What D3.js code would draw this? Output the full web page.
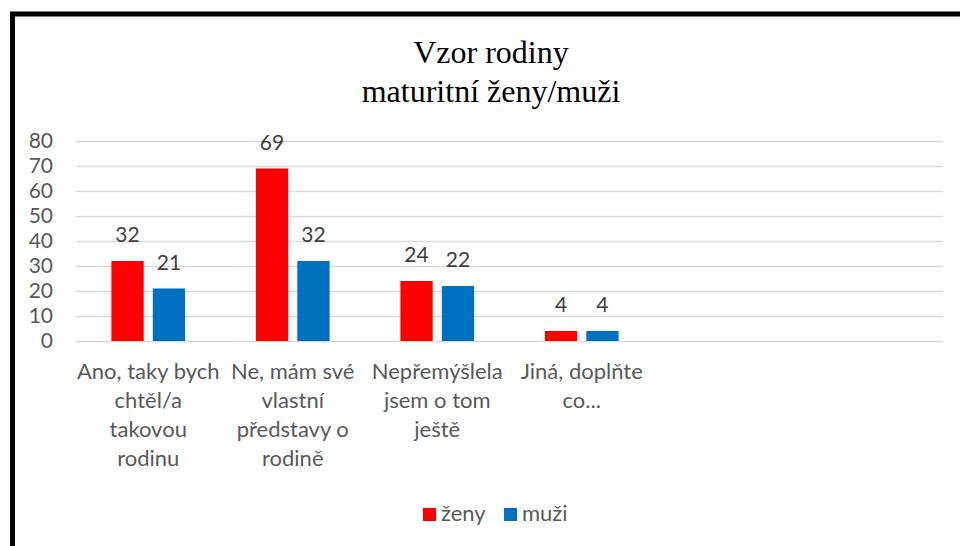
<!DOCTYPE html>
<html>
<head>
<meta charset="utf-8">
<script src="https://cdn.jsdelivr.net/npm/d3@7/dist/d3.min.js"></script>
<style>
  body { margin: 0; background: #fff; }
  text { font-family: Lato, "Open Sans", sans-serif; }
</style>
</head>
<body>
<div id="chart"></div>
<script>
// Chart data
var categories = [
  ["Ano, taky bych", "chtěl/a", "takovou", "rodinu"],
  ["Ne, mám své", "vlastní", "představy o", "rodině"],
  ["Nepřemýšlela", "jsem o tom", "ještě"],
  ["Jiná, doplňte", "co..."],
  [],
  []
];
var series = ["ženy", "muži"];
var zeny = [32, 69, 24, 4, null, null];
var muzi = [21, 32, 22, 4, null, null];
var yTicks = [0, 10, 20, 30, 40, 50, 60, 70, 80];
var colors = ["#ff0000", "#0070c0"];
var titleLines = ["Vzor rodiny", "maturitní ženy/muži"];

var width = 960, height = 546;
var plot = {left: 76, right: 943, top: 141, bottom: 341};

var svg = d3.select("#chart").append("svg")
  .attr("width", width)
  .attr("height", height);

svg.append("rect")
  .attr("width", width).attr("height", height)
  .attr("fill", "#fff");

// thick frame (cut at right and bottom)
svg.append("rect")
  .attr("x", 12.5).attr("y", 14)
  .attr("width", 980).attr("height", 600)
  .attr("fill", "none")
  .attr("stroke", "#000")
  .attr("stroke-width", 5);

// title
svg.append("g").selectAll("text")
  .data(titleLines)
  .enter().append("text")
  .attr("x", 491)
  .attr("y", function(d, i) { return 63 + i * 39; })
  .attr("text-anchor", "middle")
  .style("font-family", "'Liberation Serif', 'Times New Roman', serif")
  .style("font-size", "32px")
  .attr("fill", "#000")
  .text(function(d) { return d; });

// scales
var x0 = d3.scaleBand()
  .domain(d3.range(categories.length))
  .range([plot.left, plot.right]);

var x1 = d3.scaleBand()
  .domain(series)
  .range([x0.bandwidth() * 0.245, x0.bandwidth() * 0.755])
  .paddingInner(0.22);

var yScale = d3.scaleLinear()
  .domain([0, 80])
  .range([plot.bottom, plot.top]);

// y axis + gridlines
var yAxis = d3.axisLeft(yScale)
  .tickValues(yTicks)
  .tickSizeInner(-(plot.right - plot.left))
  .tickSizeOuter(0)
  .tickPadding(23);

var gY = svg.append("g")
  .attr("transform", "translate(" + plot.left + ",0)")
  .call(yAxis);
gY.select(".domain").remove();
gY.selectAll(".tick line")
  .attr("stroke", "#d9d9d9")
  .attr("stroke-width", 1.5);
gY.selectAll(".tick text")
  .attr("fill", "#595959")
  .style("font-size", "21px")
  .style("font-family", "Lato, sans-serif");

// bars
var rows = categories.map(function(c, i) {
  return {i: i, values: [zeny[i], muzi[i]]};
});

var group = svg.append("g").selectAll("g")
  .data(rows)
  .enter().append("g")
  .attr("transform", function(d) { return "translate(" + x0(d.i) + ",0)"; });

var cells = group.selectAll("g")
  .data(function(d) {
    return series.map(function(s, k) { return {s: s, k: k, v: d.values[k]}; })
      .filter(function(e) { return e.v != null; });
  })
  .enter().append("g");

cells.append("rect")
  .attr("x", function(d) { return x1(d.s); })
  .attr("y", function(d) { return yScale(d.v); })
  .attr("width", x1.bandwidth())
  .attr("height", function(d) { return yScale(0) - yScale(d.v); })
  .attr("fill", function(d) { return colors[d.k]; });

cells.append("text")
  .attr("x", function(d) { return x1(d.s) + x1.bandwidth() / 2; })
  .attr("y", function(d) { return yScale(d.v) - 19; })
  .attr("text-anchor", "middle")
  .attr("fill", "#404040")
  .style("font-size", "21px")
  .text(function(d) { return d.v; });

// category labels
var catLabels = svg.append("g").selectAll("text")
  .data(rows)
  .enter().append("text")
  .attr("x", function(d) { return x0(d.i) + x0.bandwidth() / 2; })
  .attr("y", 379)
  .attr("text-anchor", "middle")
  .attr("fill", "#595959")
  .style("font-size", "22px");

catLabels.selectAll("tspan")
  .data(function(d) { return categories[d.i]; })
  .enter().append("tspan")
  .attr("x", function() { return d3.select(this.parentNode).attr("x"); })
  .attr("dy", function(d, i) { return i === 0 ? 0 : 29; })
  .text(function(d) { return d; });

// legend
var legend = svg.append("g").attr("transform", "translate(423,508)");
var item = legend.selectAll("g")
  .data(series)
  .enter().append("g")
  .attr("transform", function(d, i) { return "translate(" + (i * 81) + ",0)"; });
item.append("rect")
  .attr("width", 13).attr("height", 13)
  .attr("fill", function(d, i) { return colors[i]; });
item.append("text")
  .attr("x", 18).attr("y", 13)
  .attr("fill", "#595959")
  .style("font-size", "22px")
  .text(function(d) { return d; });
</script>
</body>
</html>
